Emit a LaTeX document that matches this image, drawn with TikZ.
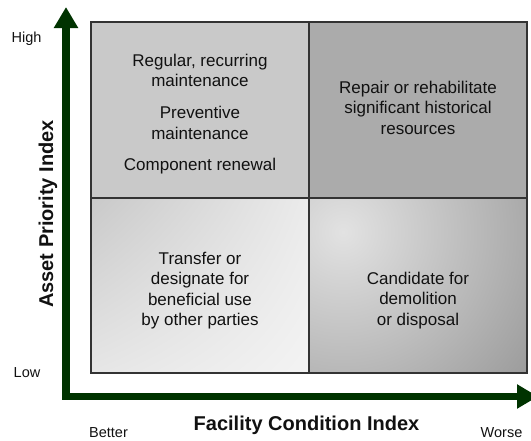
\documentclass[tikz,border=0pt]{standalone}
\usepackage{fontspec}
\setmainfont{Liberation Sans}
\usetikzlibrary{arrows.meta,shadings}
\definecolor{axisgreen}{HTML}{003300}
\definecolor{gridcol}{HTML}{333333}
\definecolor{tlfill}{HTML}{C9C9C9}
\definecolor{trfill}{HTML}{ABABAB}
\definecolor{blul}{HTML}{C9C9C9}
\definecolor{blur}{HTML}{EBEBEB}
\definecolor{blll}{HTML}{E6E6E6}
\definecolor{bllr}{HTML}{F3F3F3}
\definecolor{brin}{HTML}{E2E2E2}
\definecolor{brout}{HTML}{6C6C6C}
\definecolor{txt}{HTML}{111111}
\tikzset{
  gridline/.style={draw=gridcol, line width=1.6pt},
  axisarrow/.style={draw=axisgreen, line width=7.5pt, line join=miter,
    {Triangle[length=21pt,width=23pt]}-{Triangle[length=21pt,width=23pt]}},
  quadtext/.style={align=center, font=\fontsize{17}{20.3}\selectfont, text=txt, inner sep=0pt},
  endlabel/.style={font=\fontsize{14.5}{17}\selectfont, text=txt, inner sep=0pt, anchor=base},
  axislabel/.style={font=\fontsize{20}{24}\selectfont\bfseries, text=txt, inner sep=0pt, anchor=base}
}
\begin{document}
\begin{tikzpicture}[x=1pt,y=-1pt]
\useasboundingbox (0,0) rectangle (531,440);
% quadrant fills
\fill[tlfill] (91,22) rectangle (309,198);
\fill[trfill] (309,22) rectangle (527,198);
\shade[upper left=blul, upper right=blur, lower left=blll, lower right=bllr] (91,198) rectangle (309,373);
\begin{scope}
  \clip (309,198) rectangle (527,373);
  \shade[inner color=brin, outer color=brout] (343,232) circle (390pt);
\end{scope}
% grid
\draw[gridline] (91,22) rectangle (527,373);
\draw[gridline] (309,22) -- (309,373);
\draw[gridline] (91,198) -- (527,198);
% axes
\coordinate (ytip) at (66,7);
\coordinate (corner) at (66,396.5);
\coordinate (xtip) at (538,396.5);
\draw[axisarrow] (ytip) -- (corner) -- (xtip);
% quadrant texts (anchor base = baseline of last line)
\node[quadtext, anchor=base] (tltext) at (200,170) {Regular, recurring\\maintenance\\[11.7pt]Preventive\\maintenance\\[10.7pt]Component renewal};
\node[quadtext, anchor=base] (trtext) at (418,134) {Repair or rehabilitate\\significant historical\\resources};
\node[quadtext, anchor=base] (bltext) at (200,325.5) {Transfer or\\designate for\\beneficial use\\by other parties};
\node[quadtext, anchor=base] (brtext) at (418,325) {Candidate for\\demolition\\or disposal};
% axis labels
\node[endlabel] (high) at (26.5,42) {High};
\node[endlabel] (low) at (27,377) {Low};
\node[endlabel] (better) at (108.5,437) {Better};
\node[endlabel] (worse) at (501.5,437) {Worse};
\node[axislabel] (xlabel) at (306.5,430) {Facility Condition Index};
\node[axislabel, rotate=90] (ylabel) at (53,214) {Asset Priority Index};
\end{tikzpicture}
\end{document}
